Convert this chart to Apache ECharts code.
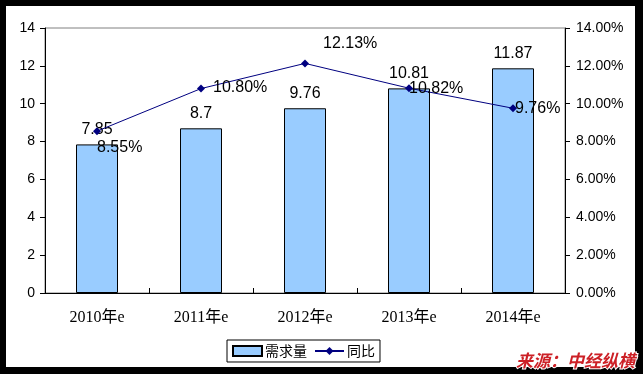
<!DOCTYPE html>
<html>
<head>
<meta charset="utf-8">
<script src="https://cdn.jsdelivr.net/npm/echarts@6/dist/echarts.min.js"></script>
<style>
html,body{margin:0;padding:0;background:#000;}
#chart{width:643px;height:374px;}
</style>
</head>
<body>
<div id="chart"></div>
<script>
var categories = ['2010年e', '2011年e', '2012年e', '2013年e', '2014年e'];
var demand = [7.85, 8.7, 9.76, 10.81, 11.87];
var yoy = [8.55, 10.80, 12.13, 10.82, 9.76];
var leftTicks = {min: 0, max: 14, interval: 2};
var rightTicks = {min: 0, max: 14, interval: 2};
var seriesNames = ['需求量', '同比'];
var sourceText = '来源：中经纵横';

var lineLabelOffsets = [[-4, 16], [8, -1], [14, -20], [-4, 0], [-2, 0]];

var chart = echarts.init(document.getElementById('chart'), null, {renderer: 'canvas'});
var sans = '"Liberation Sans", Arial, "Noto Sans CJK SC", sans-serif';
var serif = '"Liberation Serif", "DejaVu Serif", "Noto Sans CJK SC", serif';
var cjk = '"Noto Sans CJK SC", sans-serif';

chart.setOption({
  animation: false,
  backgroundColor: '#000',
  graphic: [
    {type: 'rect', z: -10, shape: {x: 6, y: 6, width: 629, height: 361}, style: {fill: '#fff'}},
    {type: 'text', right: 7, bottom: 4, z: 100,
     style: {text: sourceText, fill: '#cc2026', font: 'italic bold 17px ' + cjk,
             stroke: '#fff', lineWidth: 2}}
  ],
  grid: {left: 45, right: 78, top: 28, bottom: 81, show: true, borderColor: '#808080', borderWidth: 1, backgroundColor: 'transparent'},
  legend: {
    left: 227, top: 340,
    padding: [4, 5],
    itemGap: 7,
    itemWidth: 29, itemHeight: 10,
    borderColor: '#000', borderWidth: 1, borderRadius: 0,
    textStyle: {fontFamily: cjk, fontSize: 14, color: '#000', padding: [0, 0, 0, -2]},
    data: [
      {name: seriesNames[0], icon: 'rect'},
      {name: seriesNames[1]}
    ]
  },
  xAxis: {
    type: 'category',
    data: categories,
    boundaryGap: true,
    axisLine: {lineStyle: {color: '#000', width: 1}},
    axisTick: {show: true, inside: true, length: 5, alignWithLabel: false, lineStyle: {color: '#000'}},
    axisLabel: {fontFamily: serif, fontSize: 16, color: '#000', margin: 17},
    splitLine: {show: false}
  },
  yAxis: [
    {
      type: 'value', min: leftTicks.min, max: leftTicks.max, interval: leftTicks.interval,
      position: 'left',
      axisLine: {show: true, lineStyle: {color: '#000'}},
      axisTick: {show: true, length: 5, lineStyle: {color: '#000'}},
      axisLabel: {fontFamily: sans, fontSize: 14, color: '#000', margin: 10},
      splitLine: {show: false}
    },
    {
      type: 'value', min: rightTicks.min, max: rightTicks.max, interval: rightTicks.interval,
      position: 'right',
      axisLine: {show: true, lineStyle: {color: '#000'}},
      axisTick: {show: true, length: 5, lineStyle: {color: '#000'}},
      axisLabel: {fontFamily: sans, fontSize: 14, color: '#000', margin: 11,
        formatter: function (v) { return v.toFixed(2) + '%'; }},
      splitLine: {show: false}
    }
  ],
  series: [
    {
      name: seriesNames[0],
      type: 'bar',
      yAxisIndex: 0,
      data: demand,
      barWidth: 42,
      itemStyle: {color: '#99ccff', borderColor: '#000', borderWidth: 1},
      label: {show: true, position: 'top', distance: 7, fontFamily: sans, fontSize: 16, color: '#000'},
      z: 2
    },
    {
      name: seriesNames[1],
      type: 'line',
      yAxisIndex: 1,
      data: yoy.map(function (v, i) {
        return {value: v, label: {offset: lineLabelOffsets[i]}};
      }),
      lineStyle: {color: '#000080', width: 1},
      itemStyle: {color: '#000080'},
      symbol: 'diamond',
      symbolSize: 8,
      label: {show: true, position: 'right', distance: 0, fontFamily: sans, fontSize: 16, color: '#000',
        formatter: function (p) { return p.value.toFixed(2) + '%'; }},
      z: 5
    }
  ]
});
</script>
</body>
</html>
